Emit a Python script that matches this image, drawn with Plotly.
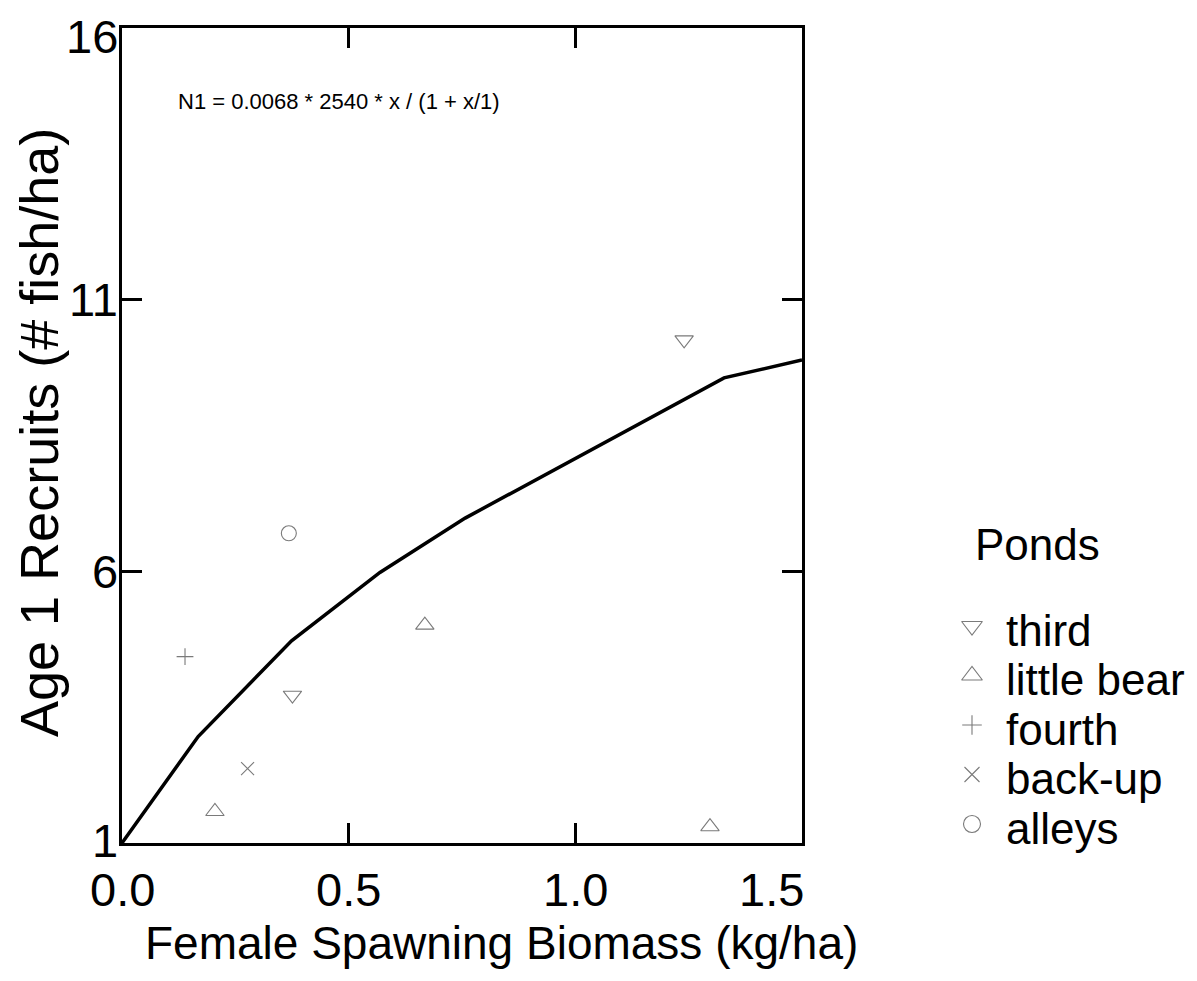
import plotly.graph_objects as go

# ---------------- data ----------------
ponds = ["third", "little bear", "fourth", "back-up", "alleys"]
pond_symbols = ["triangle-down-open", "triangle-up-open", "cross-thin-open", "x-thin-open", "circle-open"]
pond_marker_sizes = [16, 16, 12, 13, 15]          # style only

third_x = [1.240, 0.376]
third_y = [10.26, 3.72]
little_bear_x = [0.205, 0.668, 1.297]
little_bear_y = [1.58, 5.01, 1.30]
fourth_x = [0.139]
fourth_y = [4.43]
backup_x = [0.277]
backup_y = [2.37]
alleys_x = [0.368]
alleys_y = [6.70]

pond_xs = [third_x, little_bear_x, fourth_x, backup_x, alleys_x]
pond_ys = [third_y, little_bear_y, fourth_y, backup_y, alleys_y]

curve_x = [0.0, 0.168, 0.374, 0.569, 0.757, 1.328, 1.5]
curve_y = [1.0, 2.96, 4.72, 5.98, 6.98, 9.56, 9.89]

x_ticks = [0.0, 0.5, 1.0, 1.5]
x_tick_labels = ["0.0", "0.5", "1.0", "1.5"]
y_ticks = [1, 6, 11, 16]
y_tick_labels = ["1", "6", "11", "16"]

x_title = "Female Spawning Biomass (kg/ha)"
y_title = "Age 1 Recruits (# fish/ha)"
equation = "N1 = 0.0068 * 2540 * x / (1 + x/1)"
legend_title = "Ponds"

# ---------------- layout geometry (screen pixels) ----------------
SCREEN_W, SCREEN_H = 1197, 981
BODY = 8                      # default page body margin in the written html
W, H = SCREEN_W - BODY, SCREEN_H - BODY
PLOT_L, PLOT_R, PLOT_T, PLOT_B = 122, 802, 28, 843

x_dom = [(PLOT_L - BODY) / W, (PLOT_R - BODY) / W]
y_dom = [(SCREEN_H - PLOT_B) / H, (SCREEN_H - PLOT_T) / H]

FONT = "Liberation Sans, Arial, sans-serif"
MARK_COLOR = "#7a7a7a"


def screen_text(x, y, text, size, **kw):
    fig.add_annotation(x=x, y=y, xref="x2", yref="y2", text=text, showarrow=False,
                       font=dict(family=FONT, size=size, color="black"), **kw)


fig = go.Figure()

fig.add_trace(go.Scatter(x=curve_x, y=curve_y, mode="lines",
                         line=dict(color="black", width=3.5), showlegend=False,
                         hoverinfo="skip", cliponaxis=False))

for name, sym, sz, xs, ys in zip(ponds, pond_symbols, pond_marker_sizes, pond_xs, pond_ys):
    fig.add_trace(go.Scatter(x=xs, y=ys, mode="markers", name=name,
                             marker=dict(symbol=sym, size=sz, color=MARK_COLOR,
                                         line=dict(width=1.1, color=MARK_COLOR)),
                             showlegend=False))

# manual legend drawn on a helper axis whose units are screen pixels
LEG_MARK_X = 972
LEG_TEXT_X = 1004
LEG_Y0 = 630
LEG_DY = 49.5
for i, (name, sym, sz) in enumerate(zip(ponds, pond_symbols, pond_marker_sizes)):
    yy = LEG_Y0 + i * LEG_DY
    fig.add_trace(go.Scatter(x=[LEG_MARK_X], y=[yy - 4], mode="markers",
                             xaxis="x2", yaxis="y2",
                             marker=dict(symbol=sym, size=sz + 2, color=MARK_COLOR,
                                         line=dict(width=1.1, color=MARK_COLOR)),
                             showlegend=False, hoverinfo="skip"))
    screen_text(LEG_TEXT_X, yy, name, 44, xanchor="left", yanchor="middle")

screen_text(973, 544, legend_title, 44, xanchor="left", yanchor="middle")
screen_text(176, 101, equation, 22, xanchor="left", yanchor="middle")

# x tick labels (the last one is kept inside the frame, as in the original)
for i, (v, lab) in enumerate(zip(x_ticks, x_tick_labels)):
    last = i == len(x_ticks) - 1
    fig.add_annotation(x=v, y=889, xref="x", yref="y2", text=lab, showarrow=False,
                       xanchor="right" if last else "center", xshift=4 if last else 0,
                       yanchor="middle", font=dict(family=FONT, size=47, color="black"))

# y tick labels
for i, (v, lab) in enumerate(zip(y_ticks, y_tick_labels)):
    top = i == len(y_ticks) - 1
    bottom = i == 0
    fig.add_annotation(x=120, y=v, xref="x2", yref="y", text=lab, showarrow=False,
                       xanchor="right", yanchor="middle",
                       yshift=-8 if top else (3 if bottom else 0),
                       font=dict(family=FONT, size=47, color="black"))

# axis titles
screen_text(501, 943, x_title, 46, xanchor="center", yanchor="middle")
screen_text(39, 433, y_title, 54, xanchor="center", yanchor="middle", textangle=-90)

axis_common = dict(showline=True, linecolor="black", linewidth=3,
                   ticks="inside", ticklen=20, tickwidth=3, tickcolor="black",
                   mirror="ticks", showgrid=False, zeroline=False, automargin=False,
                   showticklabels=False)

fig.update_layout(
    width=W, height=H,
    margin=dict(l=0, r=0, t=0, b=0, pad=0),
    plot_bgcolor="rgba(0,0,0,0)", paper_bgcolor="white",
    showlegend=False,
    xaxis=dict(domain=x_dom, range=[0, 1.5], tickvals=x_ticks, anchor="y", **axis_common),
    yaxis=dict(domain=y_dom, range=[1, 16], tickvals=y_ticks, anchor="x", **axis_common),
    xaxis2=dict(domain=[0, 1], range=[BODY, SCREEN_W], visible=False, anchor="y2"),
    yaxis2=dict(domain=[0, 1], range=[SCREEN_H, BODY], visible=False, anchor="x2"),
)

fig.write_html("out.html")
